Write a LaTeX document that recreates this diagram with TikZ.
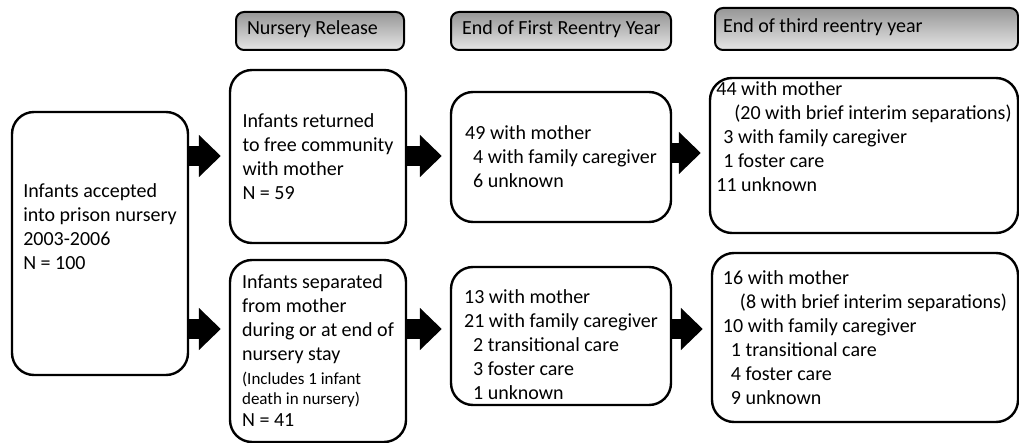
\documentclass[tikz,border=0pt]{standalone}
\usepackage{fontspec}
\setmainfont{Carlito}
\usepackage{xcolor}
\usetikzlibrary{arrows.meta}
\definecolor{headtop}{RGB}{150,150,150}
\definecolor{headbot}{RGB}{230,230,230}
\newcommand{\smalltxt}{\fontsize{17}{20}\selectfont}
\newcommand{\padbot}[1]{\rule[-#1]{0pt}{#1}}
\newcommand{\padtop}[1]{\rule{0pt}{#1}}
\tikzset{
  box/.style={draw, line width=2.4pt, rounded corners=22pt, align=left, inner sep=0pt,
    font=\fontsize{20}{24}\selectfont},
  headbox/.style={draw, line width=2pt, rounded corners=8pt, top color=headtop,
    bottom color=headbot, inner ysep=0pt, font=\fontsize{20}{24}\selectfont},
  bigarrow/.style={line width=20pt, -{Triangle[length=22pt,width=41pt]}, shorten >=8pt},
}

\begin{document}
\begin{tikzpicture}[x=1pt,y=-1pt]
    \useasboundingbox (0,0) rectangle (1019,443);

    % 定义箭头所在的两行
    \coordinate (toprow) at (0,156);
    \coordinate (botrow) at (0,329);

    % 标题框
    \node[headbox, minimum height=38pt, inner xsep=11pt] (hrelease) at (320,31)
        {\makebox[146pt][l]{Nursery Release}\padbot{6pt}};
    \node[headbox, minimum height=38pt, inner xsep=11pt] (hfirst) at (561,31)
        {\makebox[198pt][l]{End of First Reentry Year}\padbot{6pt}};
    \node[headbox, minimum height=42pt, inner xsep=8pt] (hthird) at (866.5,29)
        {\makebox[287pt][l]{End of third reentry year}\padbot{6pt}};

    % 各阶段的框
    \node[box, minimum width=176pt, minimum height=263pt] (start) at (100,243.5)
        {Infants accepted\\into prison nursery\\2003-2006\\N = 100\padbot{34pt}};
    \node[box, minimum width=176pt, minimum height=173pt] (withmom) at (318,156.5)
        {Infants returned\\to free community\\with mother\\N = 59};
    \node[box, minimum width=176pt, minimum height=182pt] (separated) at (318,351)
        {Infants separated\\from mother\\during or at end of\\nursery stay\\{\smalltxt(Includes 1 infant}\\[-4pt]{\smalltxt death in nursery)}\\[-2pt]N = 41};
    \node[box, minimum width=220pt, minimum height=130pt] (firstmom) at (561,157)
        {49 with mother\\\hspace*{8pt}4 with family caregiver\\\hspace*{8pt}6 unknown};
    \node[box, minimum width=220pt, minimum height=138pt] (firstsep) at (561,336)
        {\padtop{32pt}13 with mother\\21 with family caregiver\\\hspace*{9pt}2 transitional care\\\hspace*{9pt}3 foster care\\\hspace*{9pt}1 unknown};
    \node[box, minimum width=308pt, minimum height=155pt] (thirdmom) at (864,155.5)
        {44 with mother\\\hspace*{18pt}(20 with brief interim separations)\\\hspace*{7pt}3 with family caregiver\\\hspace*{7pt}1 foster care\\11 unknown\padbot{38pt}};
    \node[box, minimum width=306pt, minimum height=169pt] (thirdsep) at (865,337.5)
        {16 with mother\\\hspace*{17pt}(8 with brief interim separations)\\10 with family caregiver\\\hspace*{8pt}1 transitional care\\\hspace*{8pt}4 foster care\\\hspace*{8pt}9 unknown};

    % 粗箭头
    \draw[bigarrow] (start.east |- toprow) -- (withmom.west |- toprow);
    \draw[bigarrow] (start.east |- botrow) -- (separated.west |- botrow);
    \draw[bigarrow] (withmom.east |- toprow) -- (firstmom.west |- toprow);
    \draw[bigarrow] (separated.east |- botrow) -- (firstsep.west |- botrow);
    \draw[bigarrow] (firstmom.east |- 0,153) -- (thirdmom.west |- 0,153);
    \draw[bigarrow] (firstsep.east |- botrow) -- (thirdsep.west |- botrow);

\end{tikzpicture}
\end{document}
